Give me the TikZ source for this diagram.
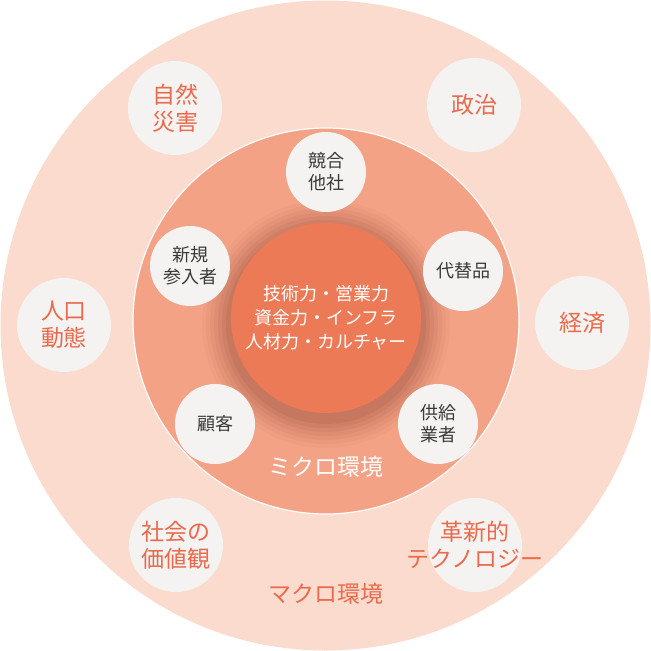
\documentclass[tikz,border=0pt]{standalone}
\usepackage{fontspec}
\setmainfont{Noto Sans CJK JP}
\definecolor{bgO}{HTML}{FADBCD}
\definecolor{bgM}{HTML}{F3A285}
\definecolor{bgI}{HTML}{EC7A57}
\definecolor{txO}{HTML}{EB6A4C}
\definecolor{txD}{HTML}{3A3A3A}
\definecolor{bub}{HTML}{F4F3F2}
\definecolor{shd}{HTML}{7A3020}
\tikzset{
 outerb/.style={circle,fill=bub,minimum size=94pt,inner sep=0pt,align=center,text=txO,font=\fontsize{23}{27}\selectfont},
 innerb/.style={circle,fill=bub,minimum size=80pt,inner sep=0pt,align=center,text=txD,font=\fontsize{18}{22}\selectfont},
}
\begin{document}
\begin{tikzpicture}[x=1pt,y=-1pt]
\useasboundingbox (0,0) rectangle (651,651);
\node[circle,fill=bgO,minimum size=650pt,inner sep=0pt] (outer) at (325.5,325.5) {};
\node[circle,fill=bgM,draw=white,line width=1.2pt,minimum size=386pt,inner sep=0pt] (mid) at (326,321) {};
\foreach \r/\o in {124/0.03,120/0.04,116/0.05,112/0.06,108/0.07,104/0.08,100/0.09}{
  \fill[shd,opacity=\o] (326,324) circle (\r pt);
}
\node[circle,fill=bgI,minimum size=190pt,inner sep=0pt,align=center,text=white,font=\fontsize{18}{24}\selectfont] (core) at (326,318) {技術力・営業力\\資金力・インフラ\\人材力・カルチャー};
\node[outerb] (n1) at (175,108) {自然\\災害};
\node[outerb] (n2) at (474,105) {政治};
\node[outerb] (n3) at (64,325) {人口\\動態};
\node[outerb] (n4) at (582,323) {経済};
\node[outerb] (n5) at (176,545) {社会の\\価値観};
\node[outerb] (n6) at (475,545) {};
\node[text=txO,align=center,font=\fontsize{23}{27}\selectfont] (n6t) at (475,545) {革新的\\テクノロジー};
\node[innerb] (m1) at (326,172) {競合\\他社};
\node[innerb] (m2) at (463,271) {代替品};
\node[innerb] (m3) at (190,266) {新規\\参入者};
\node[innerb] (m4) at (215,424) {顧客};
\node[innerb] (m5) at (438,424) {供給\\業者};
\node[text=white,font=\fontsize{23}{27}\selectfont] (lm) at (326,467) {ミクロ環境};
\node[text=txO,font=\fontsize{23}{27}\selectfont] (lM) at (326,594) {マクロ環境};
\end{tikzpicture}
\end{document}
